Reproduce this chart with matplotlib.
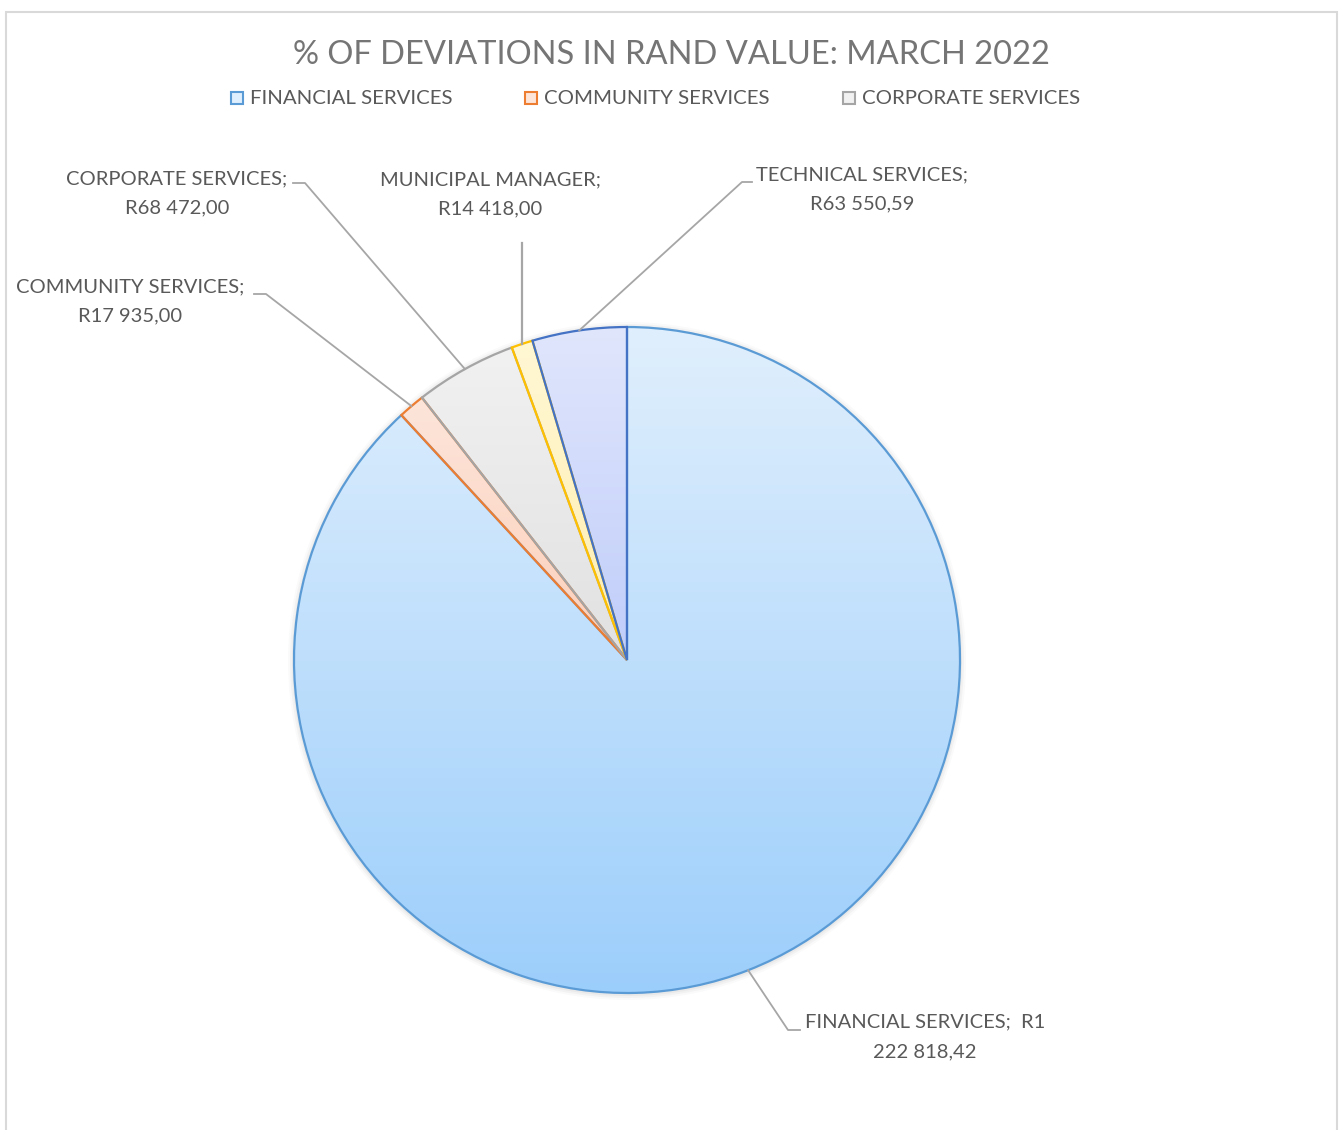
import numpy as np
import matplotlib
matplotlib.use("Agg")
import matplotlib.pyplot as plt
from matplotlib.patches import Rectangle
from matplotlib.colors import LinearSegmentedColormap

plt.rcParams["font.family"] = ["Lato", "DejaVu Sans"]

# Deviations per department (Rand), March 2022
departments = ["FINANCIAL SERVICES", "COMMUNITY SERVICES", "CORPORATE SERVICES",
               "MUNICIPAL MANAGER", "TECHNICAL SERVICES"]
amounts = [1222818.42, 17935.00, 68472.00, 14418.00, 63550.59]
value_labels = ["FINANCIAL SERVICES;  R1\n222 818,42", "COMMUNITY SERVICES;\nR17 935,00",
                "CORPORATE SERVICES;\nR68 472,00", "MUNICIPAL MANAGER;\nR14 418,00",
                "TECHNICAL SERVICES;\nR63 550,59"]
legend_items = departments[:3]

edge_colors = ["#5b9bd5", "#ed7d31", "#a5a5a5", "#ffc000", "#4472c4"]
grad_top = ["#e0effd", "#fde5da", "#f1f1f1", "#fff7d4", "#e0e6fc"]
grad_bottom = ["#9ccefb", "#fccfba", "#e1e1e1", "#ffefb0", "#c0cdfa"]

W, H = 1342, 1130
fig = plt.figure(figsize=(W / 100, H / 100), dpi=100)
ax = fig.add_axes([0, 0, 1, 1])
ax.set_xlim(0, W)
ax.set_ylim(0, H)
ax.set_aspect("equal")
ax.axis("off")

# chart border
ax.add_patch(Rectangle((6, -20), 1331, H - 12 + 20, fill=False, ec="#d9d9d9", lw=1.5))

cx, cy, r = 627, H - 660, 333

# soft shadow behind the pie
for k, a in zip([6, 4, 2], [0.04, 0.06, 0.08]):
    ax.add_patch(plt.Circle((cx, cy - 1), r + k, color="#808080", alpha=a, lw=0, zorder=1))

wedges, _ = ax.pie(amounts, startangle=90, counterclock=False, center=(cx, cy), radius=r,
                   wedgeprops=dict(linewidth=1.6, zorder=3))

for w, ec, c0, c1 in zip(wedges, edge_colors, grad_top, grad_bottom):
    w.set_facecolor("none")
    w.set_edgecolor(ec)
    w.set_joinstyle("miter")
    # vertical gradient over the wedge's bounding box
    verts = w.get_path().vertices
    x0, x1 = verts[:, 0].min(), verts[:, 0].max()
    y0, y1 = verts[:, 1].min(), verts[:, 1].max()
    cmap = LinearSegmentedColormap.from_list("g", [c1, c0])
    grad = np.linspace(0, 1, 256).reshape(-1, 1)
    im = ax.imshow(grad, cmap=cmap, extent=(x0, x1, y0, y1), origin="lower",
                   aspect="auto", zorder=2, interpolation="bilinear")
    im.set_clip_path(w)

ax.set_xlim(0, W)
ax.set_ylim(0, H)

# leader lines and data labels
label_pos = [(925, H - 1037), (130, H - 301.5), (177, H - 193.5), (490, H - 194.5), (862, H - 189.5)]
elbows = [(788, H - 1030, 800), (266, H - 294, 254), (305, H - 183, 293),
          None, (742, H - 182, 752)]
text_kw = dict(fontsize=14.5, color="#595959", ha="center", va="center", linespacing=1.88)
for w, lab, pos, elb in zip(wedges, value_labels, label_pos, elbows):
    mid = np.deg2rad((w.theta1 + w.theta2) / 2)
    ex, ey = cx + r * np.cos(mid), cy + r * np.sin(mid)
    if elb is None:
        ax.plot([ex, ex], [ey, H - 243], color="#a6a6a6", lw=1.6, zorder=4)
    else:
        bx, by, tx = elb
        ax.plot([ex, bx, tx], [ey, by, by], color="#a6a6a6", lw=1.3, zorder=4)
    ax.text(pos[0], pos[1], lab, **text_kw)

# title
ax.text(671, H - 55, "% OF DEVIATIONS IN RAND VALUE: MARCH 2022", fontsize=23.5,
        color="#757575", ha="center", va="center")

# legend (first three categories)
leg_x = [231, 525, 843]
for i, (lx, name) in enumerate(zip(leg_x, legend_items)):
    ax.add_patch(Rectangle((lx, H - 104), 12, 12, fc=grad_top[i], ec=edge_colors[i], lw=1.5))
    ax.text(lx + 19, H - 98, name, fontsize=14.7, color="#595959", ha="left", va="center")

fig.savefig("out.png", dpi=100)
